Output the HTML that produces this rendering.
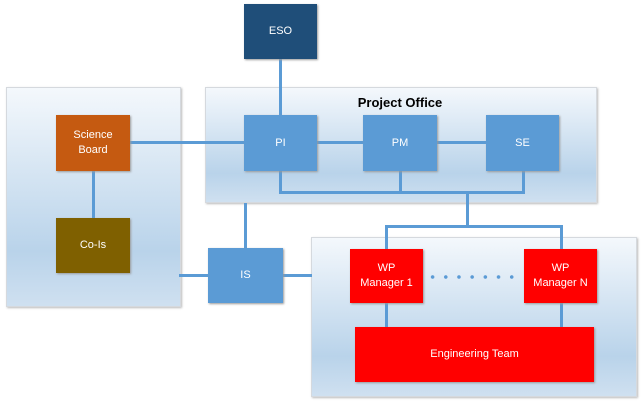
<!DOCTYPE html>
<html><head><style>
body{margin:0;width:641px;height:403px;background:#fff;position:relative;overflow:hidden;font-family:"Liberation Sans",sans-serif}
.p{position:absolute;background:linear-gradient(#f4f8fc,#b9d3ea 75%,#cfe0f0);border:1px solid #d5d9de;box-shadow:1px 1px 2px #bbb}
.b{position:absolute;color:#fff;font-size:11px;display:flex;align-items:center;justify-content:center;text-align:center;line-height:15px;box-shadow:1px 1px 2px #999}
.l{position:absolute;background:#5b9bd5}
</style></head><body>
<div class="p" style="left:6px;top:87px;width:173px;height:218px"></div>
<div class="p" style="left:205px;top:87px;width:390px;height:114px"></div>
<div class="p" style="left:311px;top:237px;width:324px;height:158px"></div>
<div style="position:absolute;left:205px;top:95px;width:390px;text-align:center;font-weight:bold;font-size:13px">Project Office</div>
<div class="l" style="left:279px;top:59px;width:3px;height:58px"></div>
<div class="l" style="left:130px;top:141px;width:116px;height:3px"></div>
<div class="l" style="left:317px;top:141px;width:170px;height:3px"></div>
<div class="l" style="left:92px;top:171px;width:3px;height:48px"></div>
<div class="l" style="left:279px;top:171px;width:3px;height:22px"></div>
<div class="l" style="left:399px;top:171px;width:3px;height:22px"></div>
<div class="l" style="left:522px;top:171px;width:3px;height:22px"></div>
<div class="l" style="left:279px;top:191px;width:246px;height:3px"></div>
<div class="l" style="left:466px;top:191px;width:3px;height:36px"></div>
<div class="l" style="left:385px;top:225px;width:177px;height:3px"></div>
<div class="l" style="left:385px;top:225px;width:3px;height:25px"></div>
<div class="l" style="left:560px;top:225px;width:3px;height:25px"></div>
<div class="l" style="left:244px;top:203px;width:3px;height:46px"></div>
<div class="l" style="left:179px;top:274px;width:30px;height:3px"></div>
<div class="l" style="left:283px;top:274px;width:29px;height:3px"></div>
<div class="l" style="left:385px;top:303px;width:3px;height:25px"></div>
<div class="l" style="left:560px;top:303px;width:3px;height:25px"></div>
<div style="position:absolute;left:426px;top:275px;width:96px;height:4px;background:radial-gradient(circle,#5b9bd5 1.6px,transparent 2px) 0 0/13.2px 4px repeat-x"></div>
<div class="b" style="left:244px;top:4px;width:73px;height:55px;background:#1f4e79">ESO</div>
<div class="b" style="left:244px;top:115px;width:73px;height:56px;background:#5b9bd5">PI</div>
<div class="b" style="left:363px;top:115px;width:74px;height:56px;background:#5b9bd5">PM</div>
<div class="b" style="left:486px;top:115px;width:73px;height:56px;background:#5b9bd5">SE</div>
<div class="b" style="left:56px;top:115px;width:74px;height:56px;background:#c55a11">Science<br>Board</div>
<div class="b" style="left:56px;top:218px;width:74px;height:55px;background:#7f6000">Co-Is</div>
<div class="b" style="left:208px;top:248px;width:75px;height:55px;background:#5b9bd5">IS</div>
<div class="b" style="left:350px;top:249px;width:73px;height:54px;background:#ff0000">WP<br>Manager 1</div>
<div class="b" style="left:524px;top:249px;width:73px;height:54px;background:#ff0000">WP<br>Manager N</div>
<div class="b" style="left:355px;top:327px;width:239px;height:55px;background:#ff0000">Engineering Team</div>
</body></html>
